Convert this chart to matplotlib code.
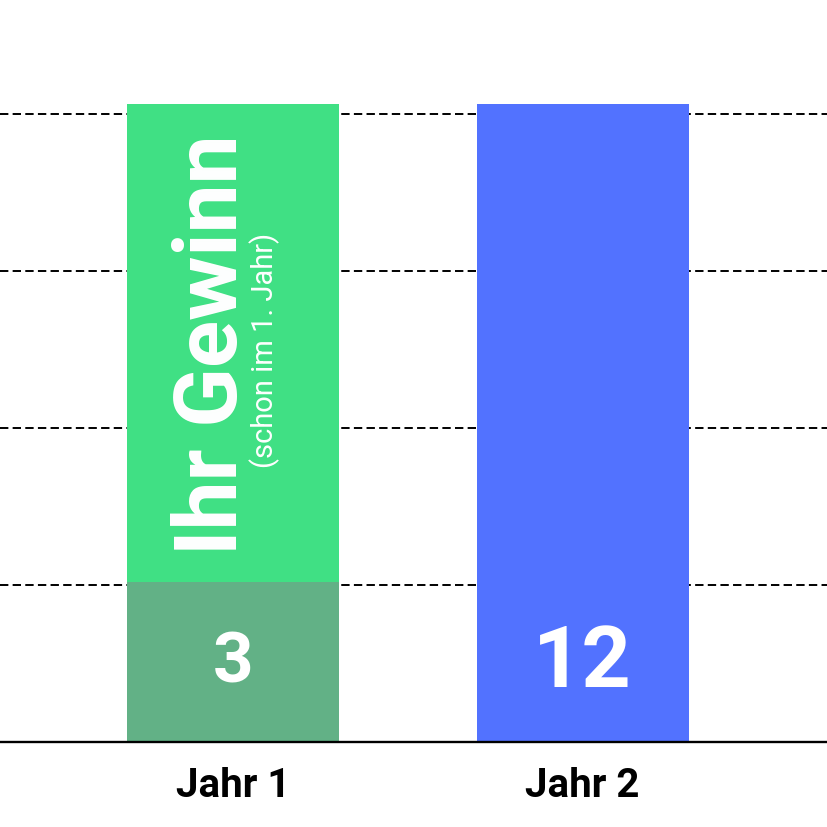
import matplotlib
matplotlib.use('Agg')
import matplotlib.pyplot as plt

plt.rcParams['font.family'] = ['Roboto', 'DejaVu Sans']

C = {'top': '#40e084', 'base': '#62b186', 'blue': '#5272ff'}

years = ['Jahr 1', 'Jahr 2']
base_vals = [3, 12]          # Jahr 1: Grundwert, Jahr 2: gesamt
gain_vals = [9, 0]           # zusätzlicher Gewinn im 1. Jahr
bar_labels = ['3', '12']
grid_levels = [2.95, 5.9, 8.85, 11.8]

fig = plt.figure(figsize=(8.28, 8.28), dpi=100)
ax = fig.add_axes([0, 85 / 828, 1, 743 / 828])

x = list(range(len(years)))
w = 0.607
ax.bar(x[0], base_vals[0], width=w, color=C['base'], linewidth=0, zorder=3)
ax.bar(x[0], gain_vals[0], bottom=base_vals[0], width=w, color=C['top'], linewidth=0, zorder=3)
ax.bar(x[1], base_vals[1], width=w, color=C['blue'], linewidth=0, zorder=3)

for g in grid_levels:
    ax.axhline(g, color='black', lw=1.4, ls=(0, (4.3, 2.2)), zorder=1)

ax.set_xlim(-0.667, 1.702)
ax.set_ylim(0, 13.97)
for s in ['top', 'left', 'right']:
    ax.spines[s].set_visible(False)
ax.spines['bottom'].set_linewidth(1.7)
ax.spines['bottom'].set_zorder(4)
ax.set_xticks([]); ax.set_yticks([])

# Werte in den Balken
ax.text(x[0], 1.5, bar_labels[0], ha='center', va='center', color='white',
        fontsize=51, fontweight='bold')
ax.text(x[1], 1.5, bar_labels[1], ha='center', va='center', color='white',
        fontsize=62, fontweight='bold')

# Beschriftung im grünen Segment
ax.text(-0.058, 7.48, 'Ihr Gewinn', rotation=90, ha='center', va='center',
        rotation_mode='anchor', color='white', fontsize=63, fontweight='bold')
ax.text(0.089, 7.39, '(schon im 1. Jahr)', rotation=90, ha='center', va='center',
        rotation_mode='anchor', color='white', fontsize=21)

for xi, lab in zip(x, years):
    ax.text(xi, -0.8, lab, ha='center', va='center', fontsize=29,
            fontweight='bold', clip_on=False)

fig.savefig('out.png', dpi=100)
